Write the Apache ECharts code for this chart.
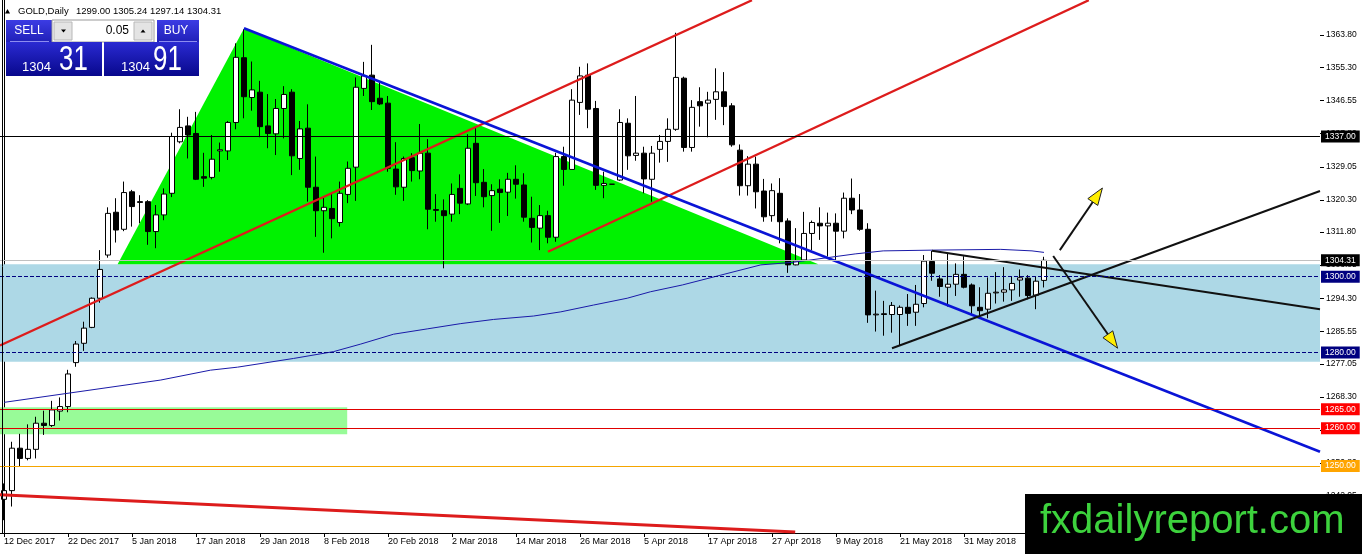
<!DOCTYPE html>
<html><head><meta charset="utf-8">
<script src="https://cdn.jsdelivr.net/npm/echarts@6/dist/echarts.min.js"></script>
<style>html,body{margin:0;padding:0;background:#fff}#c{width:1362px;height:554px}</style>
</head><body><div id="c"></div>
<script>
// ---- trading days (bars) ----
const monthDays = [
  ['Dec 2017', [12,13,14,15,18,19,20,21,22,26,27,28,29]],
  ['Jan 2018', [2,3,4,5,8,9,10,11,12,15,16,17,18,19,22,23,24,25,26,29,30,31]],
  ['Feb 2018', [1,2,5,6,7,8,9,12,13,14,15,16,19,20,21,22,23,26,27,28]],
  ['Mar 2018', [1,2,5,6,7,8,9,12,13,14,15,16,19,20,21,22,23,26,27,28,29,30]],
  ['Apr 2018', [2,3,4,5,6,9,10,11,12,13,16,17,18,19,20,23,24,25,26,27,30]],
  ['May 2018', [1,2,3,4,7,8,9,10,11,14,15,16,17,18,21,22,23,24,25,28,29,30,31]],
  ['Jun 2018', [1,4,5,6,7,8,11,12,13,14]]
];
// empty future slots (chart shift area on the right)
const futureDays = [
  ['Jun 2018', [15,18,19,20,21,22,25,26,27,28,29]],
  ['Jul 2018', [2,3,4,5,6,9,10,11,12,13,16,17,18,19,20,23,24,25,26,27,30,31]],
  ['Aug 2018', [1]]
];

// ---- daily OHLC: [open, high, low, close] ----
const ohlc = [
[1241.2,1245.4,1235.7,1243.5],[1243.5,1256.4,1239.3,1254.7],[1254.7,1258.5,1249.8,1252.0],[1252.0,1261.0,1251.5,1254.4],
[1254.4,1263.0,1252.0,1261.3],[1261.3,1264.6,1258.2,1260.7],[1260.7,1267.2,1260.3,1264.8],[1264.5,1268.1,1262.0,1265.7],
[1265.7,1275.4,1264.2,1274.3],[1277.3,1283.0,1276.2,1282.2],[1282.4,1288.1,1280.4,1286.4],[1286.6,1294.5,1286.4,1294.3],
[1294.3,1307.0,1293.1,1301.9],[1305.7,1318.3,1305.0,1316.7],[1317.0,1320.7,1309.0,1312.3],[1312.5,1325.1,1312.0,1322.2],
[1322.4,1322.9,1313.2,1318.5],[1319.8,1321.5,1314.1,1319.6],[1319.8,1320.2,1308.4,1311.9],[1311.9,1318.9,1307.5,1316.3],
[1316.3,1323.3,1314.9,1321.8],[1322.0,1338.0,1321.0,1337.0],[1335.6,1344.2,1335.2,1339.4],[1339.8,1342.2,1331.2,1337.4],
[1337.8,1343.5,1325.5,1325.7],[1326.4,1332.7,1323.7,1326.0],[1326.2,1337.4,1325.7,1331.0],[1333.2,1335.4,1327.7,1333.5],
[1333.2,1341.1,1330.8,1340.7],[1340.7,1361.6,1338.9,1357.9],[1357.8,1365.3,1341.8,1347.5],[1347.3,1356.8,1343.8,1349.3],
[1348.7,1351.7,1336.8,1339.6],[1339.8,1348.2,1333.9,1337.8],[1337.7,1346.9,1332.1,1344.4],[1344.4,1350.3,1336.5,1348.1],
[1348.7,1349.5,1326.8,1331.9],[1331.2,1341.1,1328.2,1339.0],[1339.2,1345.5,1319.8,1323.6],[1323.6,1331.7,1310.5,1317.4],
[1317.4,1321.0,1306.3,1318.3],[1318.0,1322.2,1310.1,1315.3],[1314.3,1325.1,1313.2,1322.0],[1321.7,1330.4,1319.4,1328.6],
[1328.9,1352.6,1320.0,1350.0],[1349.7,1356.7,1347.7,1353.0],[1353.2,1361.2,1344.0,1346.2],[1347.1,1351.5,1345.3,1345.6],
[1345.8,1347.7,1327.7,1328.6],[1328.4,1335.5,1321.6,1323.7],[1323.6,1331.7,1320.0,1331.2],[1331.4,1332.6,1325.1,1328.0],
[1327.9,1340.3,1325.7,1332.6],[1332.6,1336.3,1312.5,1317.8],[1317.7,1321.8,1314.5,1317.5],[1317.4,1320.4,1302.2,1316.1],
[1316.5,1324.6,1314.5,1321.7],[1323.3,1327.0,1316.5,1319.4],[1319.2,1337.6,1318.9,1333.9],[1335.2,1339.6,1321.3,1324.8],
[1324.9,1328.4,1318.3,1321.1],[1321.4,1324.4,1312.1,1322.7],[1323.1,1325.7,1314.2,1322.2],[1322.3,1327.4,1316.0,1325.7],
[1325.7,1329.4,1320.6,1324.4],[1324.2,1327.3,1314.5,1315.7],[1315.4,1321.1,1309.0,1313.0],[1312.8,1318.9,1307.0,1316.1],
[1316.1,1317.4,1308.8,1310.4],[1310.4,1332.7,1309.2,1331.7],[1331.7,1334.3,1324.0,1328.3],[1328.3,1349.5,1328.3,1346.6],
[1346.0,1355.4,1342.7,1353.0],[1353.2,1356.3,1339.2,1344.2],[1344.4,1346.4,1322.9,1324.1],[1324.1,1327.7,1320.7,1324.6],
[1324.4,1324.4,1324.4,1324.4],[1325.5,1344.2,1325.3,1340.7],[1340.5,1341.8,1328.2,1331.9],[1332.0,1347.7,1330.6,1332.6],
[1332.6,1334.3,1322.0,1325.8],[1325.7,1334.5,1319.8,1332.6],[1333.6,1337.4,1330.1,1335.7],[1335.7,1341.8,1330.3,1338.9],
[1338.9,1364.4,1338.5,1352.6],[1352.4,1352.8,1333.0,1334.1],[1334.1,1346.6,1333.0,1344.7],[1346.2,1350.0,1339.6,1345.1],
[1345.8,1348.8,1336.8,1346.6],[1346.8,1355.0,1341.4,1348.8],[1348.8,1354.0,1340.0,1344.9],[1345.1,1345.8,1334.3,1334.8],
[1333.4,1334.9,1321.4,1324.0],[1324.0,1331.8,1321.4,1329.7],[1329.7,1331.7,1318.0,1322.4],[1322.6,1325.8,1314.5,1315.8],
[1316.1,1324.6,1314.5,1322.7],[1322.0,1326.0,1308.8,1314.5],[1314.7,1315.4,1301.0,1303.1],[1303.1,1312.8,1303.0,1304.1],
[1304.4,1317.1,1304.1,1311.4],[1311.4,1314.8,1307.0,1314.3],[1314.1,1318.3,1309.7,1313.4],[1313.4,1316.9,1305.3,1314.1],
[1314.1,1316.7,1304.4,1312.0],[1312.0,1322.2,1310.1,1320.7],[1320.7,1325.9,1316.5,1317.6],[1317.6,1321.8,1312.1,1312.5],
[1312.5,1314.1,1287.8,1289.9],[1289.9,1296.3,1285.5,1290.1],[1290.2,1293.6,1284.4,1290.0],[1290.0,1293.3,1285.2,1292.4],
[1290.0,1292.4,1281.8,1291.9],[1291.9,1295.4,1287.0,1290.3],[1290.6,1297.8,1287.0,1292.7],[1292.9,1305.7,1291.9,1304.1],
[1304.0,1306.8,1298.9,1300.9],[1299.4,1300.4,1294.7,1297.4],[1297.2,1306.0,1292.1,1298.0],[1298.0,1303.5,1294.9,1300.6],
[1300.6,1305.4,1296.9,1297.2],[1297.8,1298.2,1289.9,1292.3],[1291.9,1297.2,1289.0,1291.0],[1291.4,1299.8,1289.0,1295.6],
[1295.7,1301.2,1292.9,1295.9],[1295.9,1302.5,1293.4,1296.5],[1296.5,1300.0,1293.6,1298.2],[1299.1,1301.9,1294.7,1299.7],
[1299.6,1300.4,1294.0,1295.0],[1295.1,1300.0,1291.4,1298.8],[1299.00,1305.24,1297.14,1304.31]
];

// ---- moving average, read at points: [bar index, price] ----
const maLine = [[0,1266.8],[19.6,1272.7],[25.8,1275.3],[29.2,1276.1],[36.2,1278.4],[41.2,1280.2],[44.6,1282.2],
  [48.7,1284.8],[52.9,1286.2],[57.1,1287.6],[61.2,1288.7],[66.2,1289.6],[69.6,1290.7],[73.7,1292.5],[77.9,1294.3],
  [80.8,1296.0],[84.8,1297.8],[89.6,1300.4],[94.6,1303.1],[98.7,1303.8],[106.4,1306.0],[109.9,1306.8],[116.2,1307.0],
  [124.6,1307.2],[128.5,1306.8],[130,1306.4]];

// ---- drawn objects: [bar index, price] ----
const greenTriangle = [[14.2,1303.3],[30,1365.5],[101.8,1303.3]];
const blueZone = [[-0.5,1303.3],[164.5,1277.5]];
const greenZone = [[-0.5,1265.5],[42.9,1258.4]];
const redUpper = [[-0.5,1281.8],[93.5,1373.0]];
const redLower = [[68,1306.6],[135.6,1373.0]];
const redBottom = [[-0.5,1242.4],[98.9,1232.6]];
const blueLine = [[30,1365.6],[164.5,1253.75]];
const blackUpper = [[116,1306.85],[164.5,1291.4]];
const blackLower = [[111,1281.1],[164.5,1322.6]];
const arrowUp = [131.98,1307.0,137.3,1323.4];
const arrowDown = [131.15,1305.45,139.2,1281.1];

// ---- price levels and axis ticks ----
const levelValues = [1337.00, 1304.31, 1300.00, 1280.00, 1265.00, 1260.00, 1250.00];
const yTicks = [1242.05,1250.80,1259.55,1268.30,1277.05,1285.55,1294.30,1303.05,1311.80,1320.30,1329.05,1337.80,1346.55,1355.30,1363.80];
const askPrice = 1304.91;

// ---------------------------------------------------------------
const FONT = "'Liberation Sans', Arial, sans-serif";
const dates = monthDays.flatMap(([m, ds]) => ds.map(d => d + ' ' + m));
const future = futureDays.flatMap(([m, ds]) => ds.map(d => d + ' ' + m));
const categories = dates.concat(future);
const candleData = ohlc.map(r => [r[0], r[3], r[2], r[1]]);
const last = ohlc[ohlc.length - 1];
const xMax = categories.length - 0.5;

const levelLook = [
  {line:'#000000', type:'solid', box:'#000000'},
  {line:'#c0c0c0', type:'solid', box:'#000000'},
  {line:'#000080', type:'dashed', box:'#000080'},
  {line:'#000080', type:'dashed', box:'#000080'},
  {line:'#e00000', type:'solid', box:'#ff0000'},
  {line:'#e00000', type:'solid', box:'#ff0000'},
  {line:'#f5a500', type:'solid', box:'#ffa500'}
];

function rectPts(r){ return [[r[0][0],r[0][1]],[r[1][0],r[0][1]],[r[1][0],r[1][1]],[r[0][0],r[1][1]]]; }
const zoneShapes = [
  {pts: rectPts(blueZone), fill: '#add8e6'},
  {pts: rectPts(greenZone), fill: '#98fb98'},
  {pts: greenTriangle, fill: '#00f200'}
];

function lineSeries(data, color, width, z){
  return {type:'line', xAxisIndex:1, yAxisIndex:0, data: data, showSymbol:false, symbol:'none',
    lineStyle:{color: color, width: width}, clip:true, silent:true, z: z || 4, animation:false};
}

const chart = echarts.init(document.getElementById('c'), null, {renderer:'canvas'});
const option = {
  animation: false,
  backgroundColor: '#ffffff',
  grid: {left: 0, right: 42, top: 0, bottom: 21, containLabel: false, outerBoundsMode: 'none'},
  xAxis: [
    {type:'category', data: categories, boundaryGap: true,
     axisLine:{show:true, lineStyle:{color:'#000', width:1}},
     axisTick:{show:true, alignWithLabel:true, interval:7, length:4, lineStyle:{color:'#000'}},
     axisLabel:{interval:7, align:'left', margin:4, color:'#000', fontSize:9, fontFamily: FONT},
     splitLine:{show:false}},
    {type:'value', min:-0.5, max: xMax, show:false}
  ],
  yAxis: [{type:'value', position:'right', min:1232.31, max:1373.04, scale:true,
    axisLine:{show:true, lineStyle:{color:'#000', width:1}},
    axisTick:{show:false},
    axisLabel:{customValues: yTicks, formatter: v => Number(v).toFixed(2), color:'#000', fontSize:8.5, fontFamily: FONT, margin:6},
    splitLine:{show:false}}],
  series: [
    {type:'custom', xAxisIndex:1, yAxisIndex:0, data: zoneShapes.map((s,i)=>[i]), clip:true, silent:true, z:1,
     renderItem: function(params, api){
       const s = zoneShapes[params.dataIndex];
       return {type:'polygon', shape:{points: s.pts.map(p => api.coord(p))}, style:{fill: s.fill}};
     }},
    {type:'candlestick', xAxisIndex:0, yAxisIndex:0, data: candleData, barWidth: 5, z:2, silent:true,
     itemStyle:{color:'#ffffff', color0:'#000000', borderColor:'#000000', borderColor0:'#000000', borderWidth:1},
     markLine:{silent:true, symbol:['none','none'], animation:false,
       data: levelValues.map((v,i) => ({yAxis: v,
         lineStyle:{color: levelLook[i].line, type: levelLook[i].type, width:1},
         label:{show:true, position:'end', distance:1, formatter: v.toFixed(2), backgroundColor: levelLook[i].box,
           color:'#ffffff', fontSize:8.5, fontFamily: FONT, padding:[2,4,1,4], lineHeight:9}}))}},
    lineSeries(maLine, '#1a1aa8', 1, 3),
    lineSeries(redUpper, '#dd1c1c', 2.2),
    lineSeries(redLower, '#dd1c1c', 2.2),
    lineSeries(redBottom, '#dd1c1c', 3),
    lineSeries(blueLine, '#0a14d6', 2.6),
    lineSeries(blackUpper, '#111111', 2),
    lineSeries(blackLower, '#111111', 2),
    // price-axis tick marks at the right edge
    {type:'custom', xAxisIndex:1, yAxisIndex:0, data: yTicks.map(v => [xMax, v]), clip:false, silent:true, z:5,
     renderItem: function(params, api){
       const p = api.coord([xMax, yTicks[params.dataIndex]]);
       const y = Math.round(p[1]) + 0.5;
       return {type:'line', shape:{x1:p[0], y1:y, x2:p[0]+4, y2:y}, style:{stroke:'#000', lineWidth:1}};
     }},
    {type:'custom', xAxisIndex:1, yAxisIndex:0, data:[arrowUp, arrowDown], clip:false, silent:true, z:6,
     renderItem: function(params, api){
       const a = params.dataIndex === 0 ? arrowUp : arrowDown;
       const p = api.coord([a[0], a[1]]), q = api.coord([a[2], a[3]]);
       const dx = q[0]-p[0], dy = q[1]-p[1], L = Math.hypot(dx, dy);
       const ux = dx/L, uy = dy/L, hl = 17, hw = 6;
       const bx = q[0]-ux*hl, by = q[1]-uy*hl;
       return {type:'group', children:[
         {type:'line', shape:{x1:p[0], y1:p[1], x2:bx, y2:by}, style:{stroke:'#111', lineWidth:2}},
         {type:'polygon', shape:{points:[[q[0],q[1]],[bx-uy*hw, by+ux*hw],[bx+uy*hw, by-ux*hw]]},
          style:{fill:'#ffee00', stroke:'#222', lineWidth:1}}
       ]};
     }}
  ],
  graphic: [
    {type:'line', shape:{x1:2.5, y1:0, x2:2.5, y2:533}, style:{stroke:'#000', lineWidth:1}, z:50},
    // header
    {type:'polygon', shape:{points:[[5,13.5],[10,13.5],[7.5,9]]}, style:{fill:'#000'}, z:60},
    {type:'text', x:18, y:11, style:{text:'GOLD,Daily', fill:'#000', fontSize:9.5, fontFamily:FONT, verticalAlign:'middle'}, z:60},
    {type:'text', x:76, y:11, style:{text: last.map(v => v.toFixed(2)).join(' '), fill:'#000', fontSize:9.5, fontFamily:FONT, verticalAlign:'middle'}, z:60},
    // sell button
    {type:'rect', shape:{x:6, y:20, width:46, height:22}, style:{fill:{type:'linear',x:0,y:0,x2:0,y2:1,colorStops:[{offset:0,color:'#3c3ce4'},{offset:1,color:'#2020b8'}]}}, z:60},
    {type:'text', x:29, y:31, style:{text:'SELL', fill:'#fff', fontSize:12, fontFamily:FONT, align:'center', verticalAlign:'middle'}, z:61},
    // input
    {type:'rect', shape:{x:52, y:20, width:102, height:22}, style:{fill:'#ffffff', stroke:'#9a9a9a', lineWidth:1}, z:60},
    {type:'rect', shape:{x:54, y:22, width:18, height:18}, style:{fill:'#e4e4e4', stroke:'#b8b8b8', lineWidth:1}, z:61},
    {type:'rect', shape:{x:134, y:22, width:18, height:18}, style:{fill:'#e4e4e4', stroke:'#b8b8b8', lineWidth:1}, z:61},
    {type:'polygon', shape:{points:[[61,29.5],[66,29.5],[63.5,32.5]]}, style:{fill:'#000'}, z:62},
    {type:'polygon', shape:{points:[[140.5,32.5],[145.5,32.5],[143,29.5]]}, style:{fill:'#000'}, z:62},
    {type:'text', x:129, y:31, style:{text:'0.05', fill:'#000', fontSize:12, fontFamily:FONT, align:'right', verticalAlign:'middle'}, z:62},
    // buy button
    {type:'rect', shape:{x:157, y:20, width:42, height:22}, style:{fill:{type:'linear',x:0,y:0,x2:0,y2:1,colorStops:[{offset:0,color:'#3c3ce4'},{offset:1,color:'#2020b8'}]}}, z:60},
    {type:'text', x:176, y:31, style:{text:'BUY', fill:'#fff', fontSize:12, fontFamily:FONT, align:'center', verticalAlign:'middle'}, z:61},
    // price boxes
    {type:'rect', shape:{x:6, y:42, width:96, height:34}, style:{fill:{type:'linear',x:0,y:0,x2:0,y2:1,colorStops:[{offset:0,color:'#2a2ad2'},{offset:1,color:'#08088c'}]}}, z:60},
    {type:'rect', shape:{x:104, y:42, width:95, height:34}, style:{fill:{type:'linear',x:0,y:0,x2:0,y2:1,colorStops:[{offset:0,color:'#2a2ad2'},{offset:1,color:'#08088c'}]}}, z:60},
    {type:'line', shape:{x1:10, y1:41.5, x2:49, y2:41.5}, style:{stroke:'#8c8cf0', lineWidth:1}, z:61},
    {type:'line', shape:{x1:159, y1:41.5, x2:197, y2:41.5}, style:{stroke:'#8c8cf0', lineWidth:1}, z:61},
    {type:'text', x:22, y:67, style:{text: String(Math.floor(last[3])), fill:'#fff', fontSize:13, fontFamily:FONT, verticalAlign:'middle'}, z:61},
    {type:'text', x:59, y:60, scaleX:0.74, style:{text: last[3].toFixed(2).slice(-2), fill:'#fff', fontSize:35, fontFamily:FONT, verticalAlign:'middle'}, z:61},
    {type:'text', x:121, y:67, style:{text: String(Math.floor(askPrice)), fill:'#fff', fontSize:13, fontFamily:FONT, verticalAlign:'middle'}, z:61},
    {type:'text', x:153, y:60, scaleX:0.74, style:{text: askPrice.toFixed(2).slice(-2), fill:'#fff', fontSize:35, fontFamily:FONT, verticalAlign:'middle'}, z:61},
    // logo
    {type:'rect', shape:{x:1025, y:494, width:337, height:60}, style:{fill:'#000'}, z:80},
    {type:'text', x:1040, y:522, style:{text:'fxdailyreport.com', fill:'#3dd23d', fontSize:40, fontFamily:FONT, verticalAlign:'middle'}, z:81}
  ]
};
chart.setOption(option);
</script>
</body></html>
